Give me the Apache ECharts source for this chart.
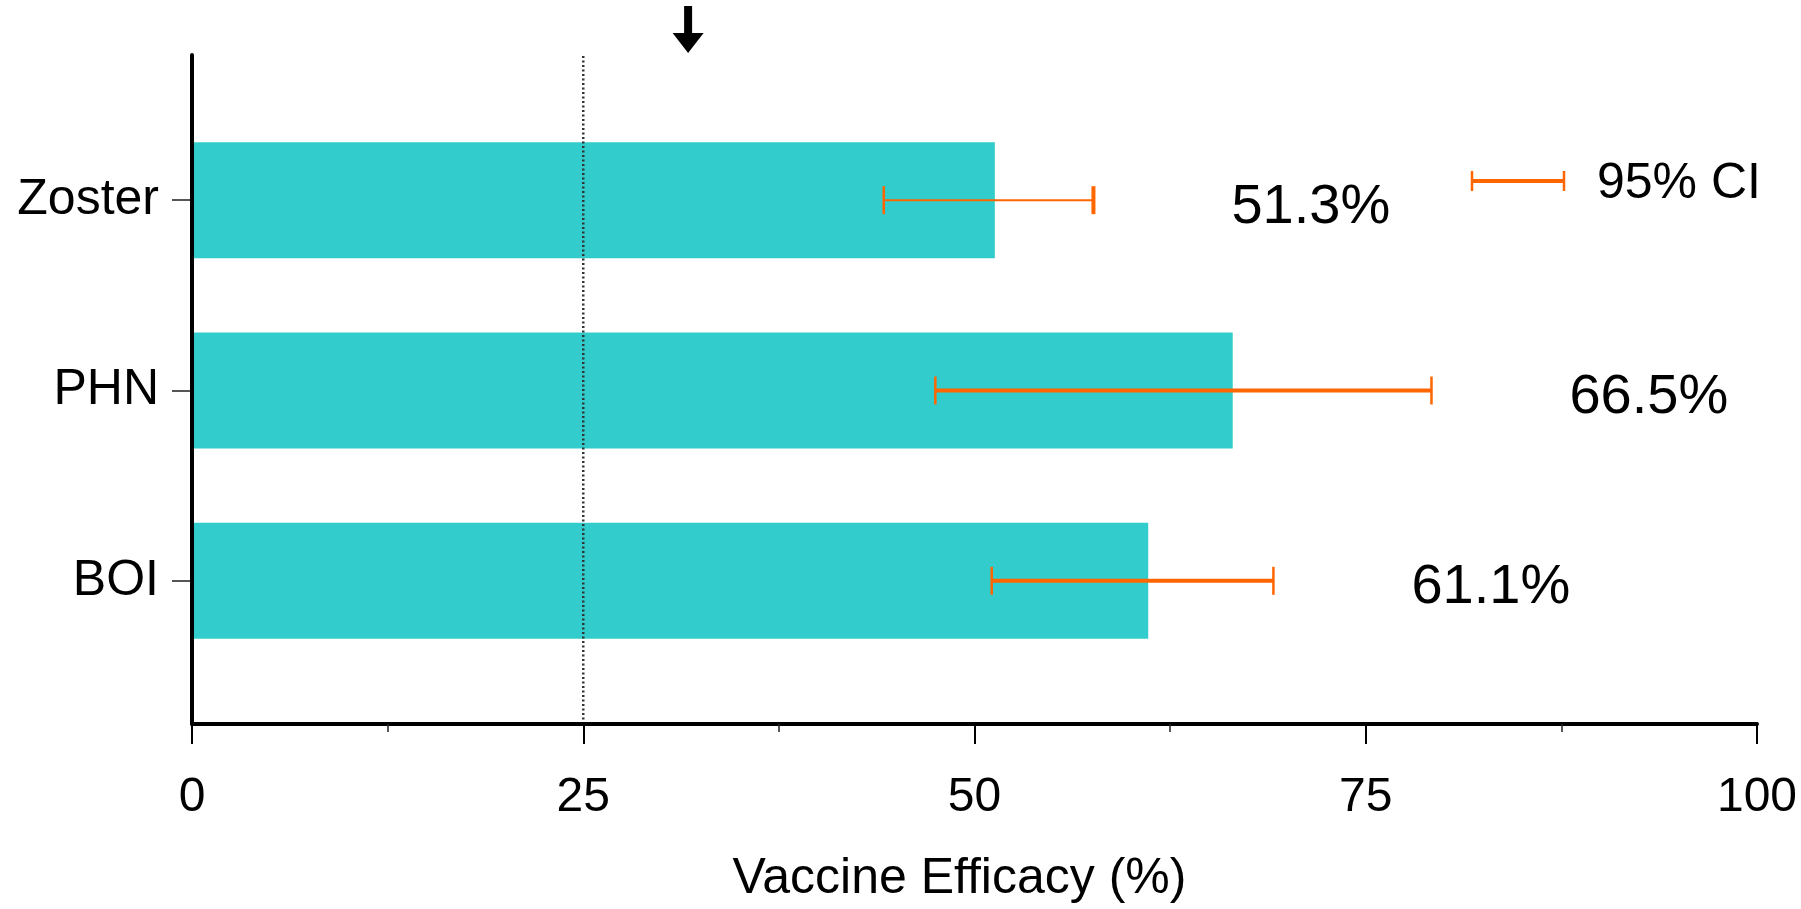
<!DOCTYPE html>
<html>
<head>
<meta charset="utf-8">
<title>Vaccine Efficacy</title>
<script src="https://cdn.jsdelivr.net/npm/echarts@6/dist/echarts.min.js"></script>
<style>
  html, body { margin: 0; padding: 0; background: #fff; }
  #chart { width: 1801px; height: 909px; }
</style>
</head>
<body>
<div id="chart"></div>
<script>
// Outcome categories, top to bottom
const categories = ['Zoster', 'PHN', 'BOI'];
// Point estimates of vaccine efficacy (%)
const efficacy = [51.3, 66.5, 61.1];
// 95% confidence interval bounds (%)
const ciLower = [44.2, 47.5, 51.1];
const ciUpper = [57.6, 79.2, 69.1];
// Value axis range and tick step
const axisMin = 0;
const axisMax = 100;
const axisStep = 25;
// Dotted reference line and the arrow marker above the plot
const referenceLine = [25];
const arrowAt = [31.7];

// Styling
const FONT = 'Arial, "Liberation Sans", Helvetica, sans-serif';
const BAR_COLOR = '#33CCCC';
const CI_COLOR = '#FF6600';
const CI_WIDTH = { Zoster: 2, PHN: 4, BOI: 4 };
const CAP_HALF = 14;
const LABEL_GAP = 138;

const chart = echarts.init(document.getElementById('chart'), null, { renderer: 'canvas' });

const ciData = categories.map((c, i) => [i, ciLower[i], ciUpper[i], efficacy[i]]);

function renderCI(params, api) {
  const idx = api.value(0);
  const lo = api.coord([api.value(1), idx]);
  const hi = api.coord([api.value(2), idx]);
  const est = api.value(3);
  const w = CI_WIDTH[categories[idx]] || 3;
  const stroke = { stroke: CI_COLOR, lineWidth: w, lineCap: 'butt' };
  return {
    type: 'group',
    children: [
      { type: 'line', shape: { x1: lo[0], y1: lo[1], x2: hi[0], y2: hi[1] }, style: stroke },
      { type: 'line', shape: { x1: lo[0], y1: lo[1] - CAP_HALF, x2: lo[0], y2: lo[1] + CAP_HALF },
        style: { stroke: CI_COLOR, lineWidth: 2.5 } },
      { type: 'line', shape: { x1: hi[0], y1: hi[1] - CAP_HALF, x2: hi[0], y2: hi[1] + CAP_HALF },
        style: { stroke: CI_COLOR, lineWidth: idx === 0 ? 4 : 2.5 } },
      { type: 'text', x: hi[0] + LABEL_GAP, y: hi[1] + 7,
        style: { text: est.toFixed(1) + '%', fill: '#000', font: '56px ' + FONT,
                 textAlign: 'left', textVerticalAlign: 'middle' } }
    ]
  };
}

const option = {
  animation: false,
  backgroundColor: '#fff',
  grid: [
    // frame grid: axes, ticks, reference line
    { left: 192, right: 44, top: 55, bottom: 184, containLabel: false },
    // bar grid: category bands
    { left: 192, right: 44, top: 105, bottom: 233, containLabel: false }
  ],
  xAxis: [
    {
      gridIndex: 0, type: 'value', min: axisMin, max: axisMax, interval: axisStep, z: 10,
      axisLine: { show: true, lineStyle: { color: '#000', width: 4 } },
      axisTick: { show: true, inside: false, length: 20, lineStyle: { color: '#000', width: 2 } },
      minorTick: { show: true, splitNumber: 2, length: 8, lineStyle: { color: '#222', width: 1.5 } },
      splitLine: { show: false },
      minorSplitLine: { show: false },
      axisLabel: { color: '#000', fontSize: 48, fontFamily: FONT, margin: 50 },
      name: 'Vaccine Efficacy (%)',
      nameLocation: 'middle',
      nameGap: 130,
      nameTextStyle: { color: '#000', fontSize: 50, fontFamily: FONT, padding: [0, 30, 0, 0] }
    },
    {
      gridIndex: 1, type: 'value', min: axisMin, max: axisMax, show: false
    }
  ],
  yAxis: [
    {
      gridIndex: 0, type: 'value', min: 0, max: 1, z: 10,
      axisLine: { show: true, lineStyle: { color: '#000', width: 4 } },
      axisTick: { show: false }, axisLabel: { show: false }, splitLine: { show: false }
    },
    {
      gridIndex: 1, type: 'category', data: categories, inverse: true,
      axisLine: { show: false },
      axisTick: { show: true, alignWithLabel: true, length: 20, lineStyle: { color: '#555', width: 2 } },
      axisLabel: { color: '#000', fontSize: 50, fontFamily: FONT, margin: 33 },
      splitLine: { show: false }
    }
  ],
  series: [
    {
      type: 'bar', xAxisIndex: 1, yAxisIndex: 1,
      data: efficacy, barWidth: 116,
      itemStyle: { color: BAR_COLOR }, z: 2
    },
    {
      type: 'line', xAxisIndex: 0, yAxisIndex: 0,
      data: [[referenceLine[0], 0], [referenceLine[0], 1]],
      symbol: 'none', silent: true,
      lineStyle: { color: '#333', width: 2.5, type: [2, 2.5] }, z: 3
    },
    {
      type: 'custom', xAxisIndex: 1, yAxisIndex: 1,
      data: ciData, renderItem: renderCI,
      encode: { x: [1, 2], y: 0 }, z: 4, silent: true
    }
  ]
};

chart.setOption(option);

// Arrow marker above the plot and the CI key at the upper right
const ax = chart.convertToPixel({ xAxisIndex: 0 }, arrowAt[0]);
chart.setOption({
  graphic: [
    {
      type: 'group', silent: true,
      children: [
        { type: 'rect', shape: { x: ax - 4, y: 6, width: 8, height: 30 }, style: { fill: '#000' } },
        { type: 'polygon', shape: { points: [[ax - 15.5, 33], [ax + 15.5, 33], [ax, 53]] }, style: { fill: '#000' } }
      ]
    },
    {
      type: 'group', silent: true,
      children: [
        { type: 'line', shape: { x1: 1472, y1: 181, x2: 1564, y2: 181 }, style: { stroke: CI_COLOR, lineWidth: 4 } },
        { type: 'line', shape: { x1: 1472, y1: 171, x2: 1472, y2: 191 }, style: { stroke: CI_COLOR, lineWidth: 2.5 } },
        { type: 'line', shape: { x1: 1564, y1: 171, x2: 1564, y2: 191 }, style: { stroke: CI_COLOR, lineWidth: 2.5 } },
        { type: 'text', x: 1597, y: 184,
          style: { text: '95% CI', fill: '#000', font: '50px ' + FONT, textAlign: 'left', textVerticalAlign: 'middle' } }
      ]
    }
  ]
});
</script>
</body>
</html>
